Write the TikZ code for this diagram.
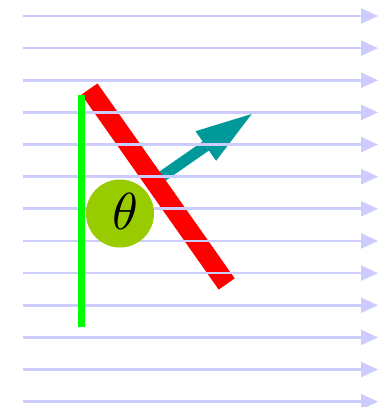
\documentclass[tikz,border=0pt]{standalone}
\usetikzlibrary{calc}
\definecolor{flowblue}{RGB}{204,204,255}
\definecolor{teal2}{RGB}{0,153,153}
\definecolor{limeg}{RGB}{153,204,0}
\begin{document}
\begin{tikzpicture}[x=1pt,y=-1pt,
  flowline/.style={flowblue,line width=2.7pt},
  flowhead/.style={fill=flowblue},
  plate/.style={red,line width=19.5pt},
  normalshaft/.style={teal2,line width=11pt},
  normalhead/.style={fill=teal2},
  wall/.style={green,line width=7pt},
  anglebadge/.style={circle,fill=limeg,minimum size=68pt,inner sep=0pt},
  anglelabel/.style={inner sep=0pt,scale=5.2}]
\useasboundingbox (0,0) rectangle (378,407);
% teal normal arrow
\coordinate (ts) at (155.1,181.3);
\coordinate (tip) at (251.7,114);
\coordinate (tb) at (205.8,146.0);
\coordinate (tc1) at (216.1,160.8);
\coordinate (tc2) at (195.5,131.2);
\draw[normalshaft] (ts) -- (tb);
\fill[normalhead] (tip) -- (tc1) -- (tc2) -- cycle;
% red plate
\coordinate (r1) at (89.5,89);
\coordinate (r2) at (226.7,284);
\draw[plate] (r1) -- (r2);
% flow lines
\foreach \k in {0,...,12}{
  \pgfmathsetmacro{\yy}{16+32.14*\k}
  \coordinate (fs\k) at (23,\yy);
  \coordinate (fe\k) at (361,\yy);
  \coordinate (ft\k) at (378,\yy);
  \draw[flowline] (fs\k) -- (fe\k);
  \fill[flowhead] (ft\k) -- ($(fe\k)+(0,-7.8)$) -- ($(fe\k)+(0,7.8)$) -- cycle;
}
% green wall
\coordinate (g1) at (81.5,95);
\coordinate (g2) at (81.5,326.7);
\draw[wall] (g1) -- (g2);
% angle badge
\node[anglebadge] (th) at (120,213.5) {};
\node[anglelabel] (thl) at (125,211.5) {$\theta$};
\end{tikzpicture}
\end{document}
